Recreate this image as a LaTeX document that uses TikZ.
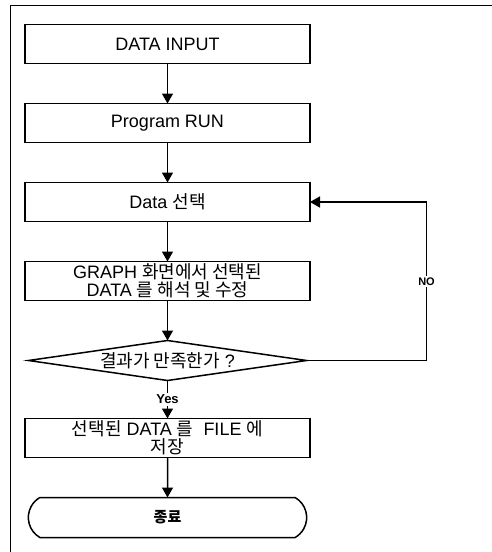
\documentclass[tikz,border=0pt]{standalone}
\usepackage{fontspec}
\setmainfont{Liberation Sans}
\newfontfamily\kr{Noto Sans CJK KR}
\usetikzlibrary{positioning,shapes.geometric,shapes.misc,arrows.meta}
\tikzset{
  stepbox/.style={draw, line width=1.5pt, minimum width=285pt, minimum height=39pt,
    inner sep=1pt, outer sep=0pt, align=center, font=\fontsize{18}{18}\selectfont},
  decide/.style={diamond, draw, line width=1.5pt, minimum width=278pt, minimum height=40pt,
    shape aspect=7, inner sep=0pt, outer sep=0pt, font=\fontsize{18}{18}\selectfont},
  endbox/.style={rounded rectangle, rounded rectangle arc length=120, draw, line width=1.5pt,
    minimum width=285pt, minimum height=40pt, outer sep=0pt, font=\fontsize{15}{16}\selectfont\bfseries},
  flow/.style={line width=1.5pt, -{Triangle[length=10pt,width=11pt]}},
  answer/.style={fill=white, inner sep=1.5pt, font=\fontsize{13}{14}\selectfont\bfseries},
}
\begin{document}
\begin{tikzpicture}[x=1pt, y=-1pt, node distance=40pt]
\useasboundingbox (0,0) rectangle (492,552);
\draw[thin] (10,552) -- (10,5) -- (492,5);

\node[stepbox] (input) at (167.5,44) {DATA INPUT};
\node[stepbox, below=of input] (run) {Program RUN};
\node[stepbox, below=of run] (select) {Data {\kr 선택}};
\node[stepbox, below=of select] (edit) {GRAPH {\kr 화면에서 선택된}\\DATA {\kr 를 해석 및 수정}};
\node[decide, below=of edit] (check) {{\kr 결과가 만족한가} ?};
\node[stepbox, below=38pt of check] (save) {{\kr 선택된} DATA {\kr 를}\ \ FILE {\kr 에}\\{\kr 저장}};
\node[endbox, below=of save] (stop) {{\kr 종료}};

\draw[flow] (input) -- (run);
\draw[flow] (run) -- (select);
\draw[flow] (select) -- (edit);
\draw[flow] (edit) -- (check);
\draw[flow] (check.south) -- node[answer] {Yes} (save);
\draw[flow] (check.east) -- ++(120,0) |- node[pos=0.25, answer, font=\fontsize{11}{12}\selectfont\bfseries] {NO} (select.east);
\draw[flow] (save) -- (stop);
\end{tikzpicture}
\end{document}
